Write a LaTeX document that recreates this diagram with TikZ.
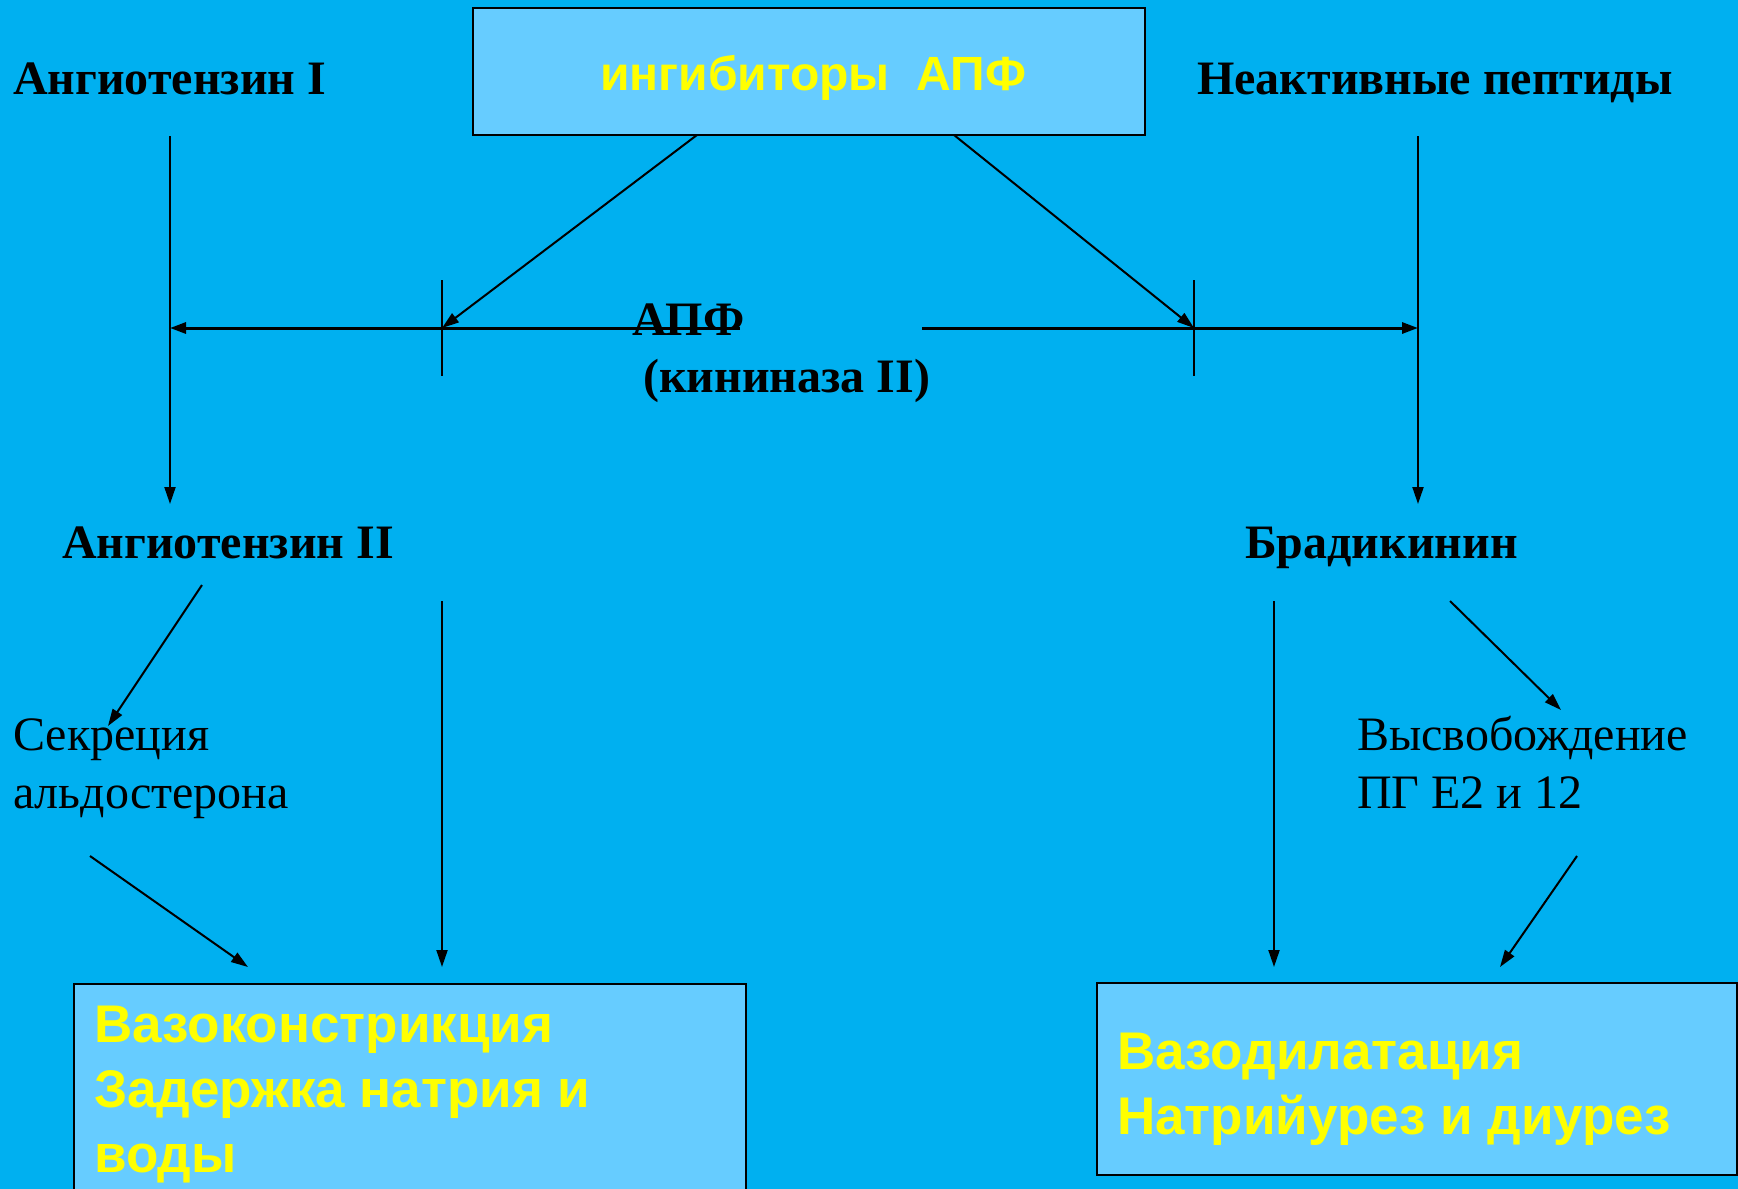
\documentclass[tikz,border=0pt]{standalone}
\usepackage{fontspec}
\setmainfont{Liberation Serif}
\newfontfamily\arialfont{Liberation Sans}
\usetikzlibrary{arrows.meta}
\definecolor{bgblue}{RGB}{0,176,240}
\definecolor{boxblue}{RGB}{102,204,255}
\definecolor{txtyellow}{RGB}{255,255,0}
\begin{document}
\begin{tikzpicture}[x=1pt,y=-1pt,
	every node/.style={inner sep=0pt},
	lbl/.style={anchor=base west,font=\fontsize{48}{58}\selectfont\bfseries},
	plain/.style={anchor=base west,align=left,font=\fontsize{48}{58}\selectfont},
	ytxt/.style={anchor=base west,align=left,text=txtyellow,font=\arialfont\fontsize{53}{65}\selectfont\bfseries},
	panel/.style={draw=black,line width=2.5pt,fill=boxblue},
	arr/.style={line width=2pt,-{Triangle[length=17pt,width=11pt]}},
	hline/.style={line width=3pt,-{Triangle[length=16pt,width=11pt]}}]
	\fill[bgblue] (0,0) rectangle (1738,1189);
	\useasboundingbox (0,0) rectangle (1738,1189);
	% boxes
	\draw[panel] (473,8) rectangle (1145,135);
	\draw[panel] (74,984) rectangle (746,1200);
	\draw[panel] (1097,983) rectangle (1737,1175);
	\node[ytxt,font=\arialfont\fontsize{48}{65}\selectfont\bfseries] (ace) at (600,90) {ингибиторы\ \ АПФ};
	\node[ytxt] (vc) at (94,1172) {Вазоконстрикция\\Задержка натрия и\\воды};
	\node[ytxt] (vd) at (1117,1134) {Вазодилатация\\Натрийурез и диурез};
	% labels
	\node[lbl] (at1) at (13,94) {Ангиотензин I};
	\node[lbl] (inp) at (1197,94) {Неактивные пептиды};
	\node[lbl] (apf) at (632,335) {АПФ};
	\node[lbl] (kin) at (643,392) {(кининаза II)};
	\node[lbl] (at2) at (62,558) {Ангиотензин II};
	\node[lbl] (brk) at (1245,558) {Брадикинин};
	\node[plain] (ald) at (13,808) {Секреция\\альдостерона};
	\node[plain] (pg) at (1357,808) {Высвобождение\\ПГ Е2 и 12};
	% points
	\coordinate (l1) at (170,136);
	\coordinate (l2) at (170,504);
	\coordinate (r1) at (1418,136);
	\coordinate (r2) at (1418,504);
	\coordinate (tl) at (442,328);
	\coordinate (tr) at (1194,328);
	\coordinate (hl) at (740,328);
	\coordinate (hr) at (922,328);
	% enzyme line
	\draw[arr] (l1) -- (l2);
	\draw[arr] (r1) -- (r2);
	\draw[hline] (hl) -- (l1 |- tl);
	\draw[hline] (hr) -- (r1 |- tr);
	\draw[line width=2pt] (442,280) -- (442,376);
	\draw[line width=2pt] (1194,280) -- (1194,376);
	\draw[arr] (697,135) -- (tl);
	\draw[arr] (954,135) -- (tr);
	% effects
	\draw[arr] (202,585) -- (108,726);
	\draw[arr] (442,601) -- (442,967);
	\draw[arr] (90,856) -- (248,967);
	\draw[arr] (1274,601) -- (1274,967);
	\draw[arr] (1450,601) -- (1561,710);
	\draw[arr] (1577,856) -- (1500,967);
\end{tikzpicture}
\end{document}
